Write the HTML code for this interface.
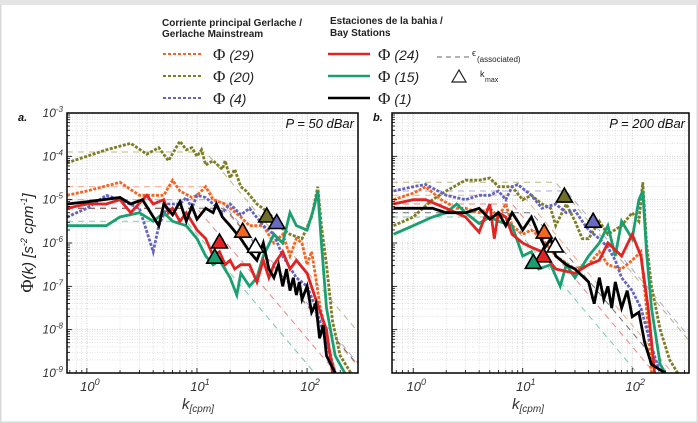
<!DOCTYPE html>
<html><head><meta charset="utf-8">
<style>
body{margin:0;background:#fff;}
#wrap{position:relative;width:698px;height:423px;overflow:hidden;font-family:"Liberation Sans",sans-serif;background:#fff;}
svg text{font-family:"Liberation Sans",sans-serif;}
</style></head>
<body>
<div id="wrap">
<svg id="svg" width="698" height="423" viewBox="0 0 698 423" xmlns="http://www.w3.org/2000/svg">
<rect x="0" y="0" width="698" height="423" fill="#fff" stroke="#d8d8d8" stroke-width="3"/>
<rect x="0" y="0" width="698" height="5" fill="#e4e4e4"/>
<g id="legend">
<text x="162" y="26" font-size="10" font-weight="bold" fill="#222">Corriente principal Gerlache /</text>
<text x="162" y="37" font-size="10" font-weight="bold" fill="#222">Gerlache Mainstream</text>
<text x="330" y="24" font-size="10" font-weight="bold" fill="#222">Estaciones de la bahia /</text>
<text x="330" y="36" font-size="10" font-weight="bold" fill="#222">Bay Stations</text>
<g><line x1="163" y1="54" x2="202" y2="54" stroke="#f26522" stroke-width="2" stroke-dasharray="3,2"/><text x="213" y="60" font-size="17" fill="#222"><tspan font-family="Liberation Serif">Φ</tspan><tspan font-style="italic" font-size="14"> (29)</tspan></text></g>
<g><line x1="163" y1="76" x2="202" y2="76" stroke="#7d7d24" stroke-width="2" stroke-dasharray="3,2"/><text x="213" y="82" font-size="17" fill="#222"><tspan font-family="Liberation Serif">Φ</tspan><tspan font-style="italic" font-size="14"> (20)</tspan></text></g>
<g><line x1="163" y1="98" x2="202" y2="98" stroke="#6464c0" stroke-width="2" stroke-dasharray="3,2"/><text x="213" y="104" font-size="17" fill="#222"><tspan font-family="Liberation Serif">Φ</tspan><tspan font-style="italic" font-size="14"> (4)</tspan></text></g>
<g><line x1="328" y1="54" x2="370" y2="54" stroke="#e02424" stroke-width="2.5"/><text x="378" y="60" font-size="17" fill="#222"><tspan font-family="Liberation Serif">Φ</tspan><tspan font-style="italic" font-size="14"> (24)</tspan></text></g>
<g><line x1="328" y1="76" x2="370" y2="76" stroke="#1aa070" stroke-width="2.5"/><text x="378" y="82" font-size="17" fill="#222"><tspan font-family="Liberation Serif">Φ</tspan><tspan font-style="italic" font-size="14"> (15)</tspan></text></g>
<g><line x1="328" y1="98" x2="370" y2="98" stroke="#000" stroke-width="2.5"/><text x="378" y="104" font-size="17" fill="#222"><tspan font-family="Liberation Serif">Φ</tspan><tspan font-style="italic" font-size="14"> (1)</tspan></text></g>
<g><line x1="437" y1="57" x2="470" y2="57" stroke="#666" stroke-width="1" stroke-dasharray="5,4"/><text x="472" y="56" font-size="9" fill="#222">ϵ</text><text x="477" y="62" font-size="8" fill="#222">(associated)</text></g>
<g><polygon points="459,70 452,82 466,82" fill="none" stroke="#222" stroke-width="1.2"/><text x="480" y="77" font-size="9" fill="#222">k</text><text x="485" y="82" font-size="7" fill="#222">max</text></g>
</g>
<g id="plots"></g>
<text transform="translate(33,243) rotate(-90)" text-anchor="middle" font-size="15" fill="#222"><tspan font-family="Liberation Serif" font-size="18">Φ</tspan><tspan font-style="italic">(k)  [s</tspan><tspan font-style="italic" font-size="9" dy="-6">-2</tspan><tspan font-style="italic" dy="6"> cpm</tspan><tspan font-style="italic" font-size="9" dy="-6">-1</tspan><tspan font-style="italic" dy="6">]</tspan></text>
<text x="198" y="409" text-anchor="middle" font-size="15" font-style="italic" fill="#333">k<tspan font-size="10" dy="3">[cpm]</tspan></text>
<text x="528" y="409" text-anchor="middle" font-size="15" font-style="italic" fill="#333">k<tspan font-size="10" dy="3">[cpm]</tspan></text>
<text x="18" y="121" font-size="11" font-weight="bold" font-style="italic" fill="#111">a.</text>
<text x="373" y="121" font-size="11" font-weight="bold" font-style="italic" fill="#111">b.</text>
</svg>
</div>
<script>
// series order: 29 (orange), 20 (olive), 4 (purple), 24 (red), 15 (green), 1 (black)
const seriesNames = ["29","20","4","24","15","1"];
// Panel a (P = 50 dBar): wavenumber [cpm] and log10 Phi
const aK29 = [0.66,1,2,3,5,6,7,9,10,12,14,18,25,30,40,50,60,70,80,90,100,110,120,130,150,180];
const aV29 = [-4.9,-4.8,-4.6,-4.9,-4.9,-4.55,-4.8,-4.95,-4.9,-4.7,-5.0,-5.1,-5.4,-5.6,-5.6,-6.0,-5.8,-6.3,-5.9,-6.0,-6.5,-6.2,-6.8,-7.4,-8.2,-9.0];
const aK20 = [0.66,1,1.5,2.5,3.5,4.5,5.5,7,8,9,10,11,12,14,17,18,20,22,25,28,35,45,55,70,90,110,125,135,150,170,200,250];
const aV20 = [-4.15,-4.0,-3.85,-3.7,-3.95,-3.8,-4.1,-3.65,-3.85,-3.8,-4.0,-3.85,-4.2,-4.1,-4.3,-4.1,-4.5,-4.3,-4.7,-4.8,-5.1,-5.3,-5.6,-5.8,-5.9,-5.4,-4.7,-5.6,-6.5,-7.8,-8.6,-9.0];
const aK4 = [0.66,1,1.5,2,3,4,4.5,5.5,7,8,9,10,12,14,17,20,25,30,40,50,60,80,100,120,150,180];
const aV4 = [-5.4,-5.2,-4.9,-5.0,-5.2,-6.2,-5.6,-5.1,-5.1,-4.95,-5.2,-4.9,-4.95,-5.1,-5.3,-5.1,-5.35,-5.2,-5.6,-5.8,-6.3,-6.8,-7.0,-7.5,-8.3,-9.0];
const aK24 = [0.66,1,1.5,2,2.5,3.5,4,5,5.5,6,7,8,10,12,14,16,18,20,22,25,30,35,40,45,50,60,70,80,100,120,150,170];
const aV24 = [-5.2,-5.1,-5.1,-5.0,-5.3,-4.9,-5.1,-5.0,-5.3,-5.2,-5.5,-5.3,-5.7,-5.9,-6.3,-6.2,-6.5,-6.4,-6.6,-6.5,-6.5,-6.9,-6.4,-6.8,-6.5,-6.2,-6.6,-6.4,-6.7,-7.3,-8.0,-9.0];
const aK15 = [0.66,1,1.5,2,3,4,5,6,8,10,12,14,16,20,23,25,30,35,40,50,60,70,80,100,115,125,135,150,180,220];
const aV15 = [-5.6,-5.6,-5.6,-5.4,-5.3,-5.5,-5.3,-5.5,-5.6,-5.9,-6.3,-6.5,-6.4,-6.8,-7.2,-6.7,-7.0,-6.8,-6.3,-5.8,-6.0,-5.3,-5.6,-5.7,-5.2,-4.8,-6.0,-7.5,-8.6,-9.0];
const aK1 = [0.66,1,2,2.5,3.2,4.5,5,6,7,8,9,10,12,14,15,17,20,25,30,35,40,45,50,55,60,65,70,75,80,85,90,100,110,120,130,140,150,180];
const aV1 = [-5.1,-5.05,-4.95,-5.1,-5.0,-5.6,-5.1,-5.35,-5.05,-5.5,-5.15,-5.45,-5.2,-5.3,-5.1,-5.4,-5.6,-5.9,-6.2,-6.4,-6.0,-6.6,-6.8,-6.5,-7.0,-6.6,-7.1,-6.8,-7.2,-6.9,-7.3,-7.0,-7.6,-7.4,-8.2,-7.9,-8.6,-9.0];
const aKmaxK = [26,43,53,16,14.5,34];
const aKmaxV = [-5.75,-5.4,-5.55,-6.0,-6.35,-6.1];
const aEpsLevel = [-4.7,-3.9,-5.0,-5.2,-5.5,-5.2];
const aEpsKnee = [12,12,16,10,8,18];
// Panel b (P = 200 dBar)
const bK29 = [0.66,1,1.3,1.8,2.5,3,4,5,6,7,8,10,12,15,20,30,40,50,60,80,100,120,135,150];
const bV29 = [-5.0,-4.85,-4.7,-5.0,-5.2,-5.2,-5.3,-5.2,-5.4,-5.1,-5.6,-5.8,-5.7,-5.9,-6.3,-6.6,-6.5,-6.2,-6.5,-6.6,-6.4,-6.2,-7.5,-9.0];
const bK20 = [0.66,1,1.5,2,3,4,5,6,8,10,12,15,18,20,25,30,35,40,50,60,80,100,115,125,135,150,180,220,260];
const bV20 = [-5.6,-5.4,-5.0,-4.8,-4.55,-4.55,-4.5,-4.7,-4.7,-5.0,-4.9,-5.1,-5.2,-5.6,-5.1,-5.5,-5.9,-5.9,-5.5,-5.8,-5.6,-5.3,-5.5,-4.6,-6.0,-7.0,-8.0,-8.7,-9.0];
const bK4 = [0.66,1,1.3,2,3,4,5,6,7,8,9,12,15,20,25,30,35,40,50,60,70,80,100,120,150,180];
const bV4 = [-4.8,-4.7,-4.65,-4.9,-5.0,-4.9,-4.9,-4.8,-5.0,-4.7,-4.65,-4.9,-5.2,-5.1,-5.3,-5.25,-5.5,-5.7,-5.9,-6.1,-6.4,-6.8,-7.1,-7.5,-8.4,-9.0];
const bK24 = [0.66,1,1.3,2,3,4,5,5.5,6,7,8,10,12,15,20,30,40,50,60,80,100,120,140,160];
const bV24 = [-5.1,-5.0,-5.0,-5.2,-5.4,-5.75,-5.1,-5.9,-5.3,-5.4,-5.8,-6.0,-6.1,-6.2,-6.6,-6.7,-6.5,-6.4,-6.0,-6.3,-5.8,-6.3,-7.5,-9.0];
const bK15 = [0.66,1,1.5,2,2.5,3,4,5,6,8,10,12,14,18,22,25,30,40,50,60,70,80,100,115,125,135,150,180,200];
const bV15 = [-5.8,-5.6,-5.4,-5.3,-5.1,-5.3,-5.55,-5.4,-5.5,-5.6,-6.3,-6.2,-6.6,-6.5,-7.0,-6.5,-6.8,-6.3,-6.0,-5.6,-6.3,-5.5,-5.9,-5.0,-4.8,-6.2,-7.5,-8.8,-9.0];
const bK1 = [0.66,1,1.5,2,3,4,5,6,7,8,9,10,12,14,16,18,20,25,30,40,45,50,55,60,65,70,80,90,100,115,130,150,200];
const bV1 = [-5.2,-5.2,-5.2,-5.3,-5.3,-5.2,-5.45,-5.3,-5.6,-5.3,-5.5,-5.7,-5.4,-5.8,-6.1,-5.9,-6.3,-6.5,-6.6,-6.9,-7.4,-6.8,-7.3,-7.0,-7.5,-6.9,-7.5,-7.1,-7.7,-7.6,-8.3,-8.8,-9.0];
const bKmaxK = [15.7,24,44,15.4,12.5,19.8];
const bKmaxV = [-5.77,-4.94,-5.52,-6.32,-6.47,-6.09];
const bEpsLevel = [-4.9,-4.6,-4.8,-5.1,-5.4,-5.3];
const bEpsKnee = [10,20,25,8,7,12];
const yTickExp = [-3,-4,-5,-6,-7,-8,-9];
const xTickExp = [0,1,2];

const colors = ["#f26522","#7d7d24","#6464c0","#e02424","#1aa070","#000000"];
const dotted = [true,true,true,false,false,false];
const triFill = ["#f26522","#6f6f2a","#6a6ac0","#e02424","#1aa070","#ffffff"];
const NS = "http://www.w3.org/2000/svg";
const root = document.getElementById("plots");

function mk(tag, attrs, parent){
  const e = document.createElementNS(NS, tag);
  for (const k in attrs) e.setAttribute(k, attrs[k]);
  parent.appendChild(e);
  return e;
}

function panel(id, box, xMin, xMax, Ks, Vs, kmK, kmV, eL, eK, label, showY){
  const g = mk("g", {}, root);
  
  
  const lx0 = Math.log10(xMin), lx1 = Math.log10(xMax);
  const X = k => box.x + (Math.log10(k) - lx0) / (lx1 - lx0) * box.w;
  const Y = v => box.y + (-3 - v) / 6 * box.h;
  const clip = mk("clipPath", {id: "clip" + id}, g);
  mk("rect", {x: box.x, y: box.y, width: box.w, height: box.h}, clip);
  const grid = mk("g", {stroke: "#c8c8c8", "stroke-width": "0.6", "stroke-dasharray": "1,1.5"}, g);
  
  
  for (let e = -1; e <= 2; e++) for (let m = 1; m <= 9; m++) {
    const k = m * Math.pow(10, e);
    if (k < xMin || k > xMax) continue;
    const x = X(k);
    mk("line", {x1: x, y1: box.y, x2: x, y2: box.y + box.h, "stroke-width": m === 1 ? 0.9 : 0.5}, grid);
  }
  for (let e = -9; e < -3; e++) for (let m = 1; m <= 9; m++) {
    const y = Y(e + Math.log10(m));
    mk("line", {x1: box.x, y1: y, x2: box.x + box.w, y2: y, "stroke-width": m === 1 ? 0.9 : 0.5}, grid);
  }
  const data = mk("g", {"clip-path": "url(#clip" + id + ")"}, g);
  for (let i = 0; i < 6; i++) {
    const pts = [];
    for (let lk = lx0; lk <= lx1 + 0.01; lk += 0.05) {
      const k = Math.pow(10, lk);
      const v = k < eK[i] ? eL[i] : eL[i] - 3 * Math.log10(k / eK[i]);
      pts.push(X(k).toFixed(1) + "," + Y(v).toFixed(1));
    }
    const pl = mk("polyline", {points: pts.join(" "), fill: "none", stroke: colors[i], "stroke-opacity": "0.55", "stroke-width": "1", "stroke-dasharray": "6,5"}, data);
    
    
  }
  const order = [1,0,2,4,3,5];
  for (const i of order) {
    const pts = Ks[i].map((k, j) => X(k).toFixed(1) + "," + Y(Vs[i][j]).toFixed(1)).join(" ");
    const attrs = {points: pts, fill: "none", stroke: colors[i], "stroke-width": "2.8", "stroke-linejoin": "miter"};
    if (dotted[i]) attrs["stroke-dasharray"] = "3,1.5";
    const pl = mk("polyline", attrs, data);
    
    
  }
  for (let i = 0; i < 6; i++) {
    const cx = X(kmK[i]), cy = Y(kmV[i]);
    const t = mk("polygon", {points: cx + "," + (cy - 9) + " " + (cx - 8) + "," + (cy + 5) + " " + (cx + 8) + "," + (cy + 5), fill: triFill[i], stroke: "#000", "stroke-width": "1.6"}, g);
    
    
  }
  const fr = mk("rect", {x: box.x, y: box.y, width: box.w, height: box.h, fill: "none", stroke: "#000", "stroke-width": "1.5"}, g);
  
  
  for (let e = -9; e < -3; e++) for (let m = 1; m <= 9; m++) {
    const y = Y(e + Math.log10(m));
    mk("line", {x1: box.x, y1: y, x2: box.x + (m === 1 ? 5 : 3), y2: y, stroke: "#000", "stroke-width": "0.8"}, g);
  }
  for (let e = -1; e <= 2; e++) for (let m = 1; m <= 9; m++) {
    const k = m * Math.pow(10, e);
    if (k < xMin || k > xMax) continue;
    mk("line", {x1: X(k), y1: box.y + box.h, x2: X(k), y2: box.y + box.h - (m === 1 ? 5 : 3), stroke: "#000", "stroke-width": "0.8"}, g);
  }
  if (showY) {
    for (const e of yTickExp) {
      const t = mk("text", {x: box.x - 4, y: Y(e) + 4, "text-anchor": "end", "font-size": "12", "font-style": "italic", fill: "#333"}, g);
      
      
      t.innerHTML = '10<tspan font-size="8" dy="-5">' + e + '</tspan>';
    }
  }
  for (const e of xTickExp) {
    const t = mk("text", {x: X(Math.pow(10, e)) + 3, y: box.y + box.h + 18, "text-anchor": "middle", "font-size": "13", "font-style": "italic", fill: "#333"}, g);
    
    
    t.innerHTML = '10<tspan font-size="9" dy="-6">' + e + '</tspan>';
  }
  const pl = mk("text", {x: box.x + box.w - 4, y: box.y + 15, "text-anchor": "end", "font-size": "13", "font-style": "italic", fill: "#111"}, g);
  
  
  pl.textContent = label;
}

panel("a", {x: 67, y: 113, w: 291, h: 260}, 0.66, 290,
  [aK29, aK20, aK4, aK24, aK15, aK1], [aV29, aV20, aV4, aV24, aV15, aV1],
  aKmaxK, aKmaxV, aEpsLevel, aEpsKnee, "P = 50 dBar", true);
panel("b", {x: 392, y: 113, w: 297, h: 260}, 0.64, 330,
  [bK29, bK20, bK4, bK24, bK15, bK1], [bV29, bV20, bV4, bV24, bV15, bV1],
  bKmaxK, bKmaxV, bEpsLevel, bEpsKnee, "P = 200 dBar", false);
</script>
</body></html>
